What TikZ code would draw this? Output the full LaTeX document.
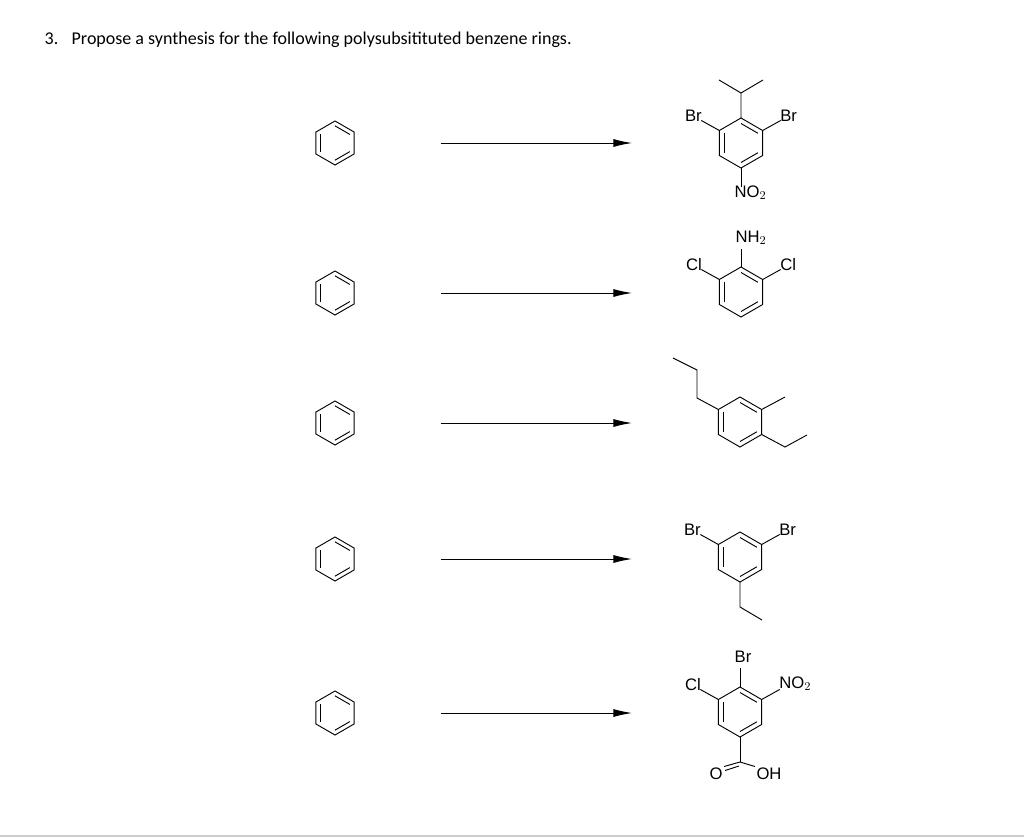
\documentclass[tikz,border=0pt]{standalone}
\usepackage{fontspec}
\setmainfont{Liberation Sans}
\newfontfamily\titlefont{Carlito}
\usetikzlibrary{calc,arrows.meta}
\newcommand\benz[4]{%
 \coordinate (#1c) at (#2,#3);
 \foreach \i/\a in {1/90,2/30,3/-30,4/-90,5/-150,6/150}{\coordinate (#1\i) at ({#2+#4*cos(\a)},{#3-#4*sin(\a)});}
 \draw[bond] (#11)--(#12)--(#13)--(#14)--(#15)--(#16)--cycle;
 \foreach \p/\q in {1/2,3/4,5/6}{\draw[bond] ($(#1c)!0.78!(#1\p)$)--($(#1c)!0.78!(#1\q)$);}
}
\newcommand\lsub[3]{\coordinate (#2) at ($(#1)+(-18,-10)$); \node[lab,anchor=south east] (#2l) at ($(#2)+(2,3)$) {#3}; \draw[bond] (#1)--(#2);}
\newcommand\rsub[3]{\coordinate (#2) at ($(#1)+(18,-10)$); \node[lab,anchor=south west] (#2l) at ($(#2)+(-2,3)$) {#3}; \draw[bond] (#1)--(#2);}
\tikzset{bond/.style={line width=0.7pt},lab/.style={font=\fontsize{12.5}{14}\selectfont,inner sep=1pt},
 rx/.style={line width=0.7pt,-{Latex[length=14pt,width=6pt]}}}
\begin{document}
\begin{tikzpicture}[x=0.75pt,y=-0.75pt]
\useasboundingbox (0,0) rectangle (1024,839);
\draw[gray!40,line width=1pt] (0,836) -- (1024,836);
\node[anchor=west,font=\titlefont\fontsize{13.5}{15}\selectfont] (title) at (40,40) {3.\hspace{10pt}Propose a synthesis for the following polysubsitituted benzene rings.};
\foreach \n/\y in {1/143,2/293,3/423,4/559,5/713}{
 \benz{s\n}{335}{\y}{22}
 \coordinate (a\n) at (441,\y); \coordinate (b\n) at (632,\y);
 \draw[rx] (a\n) -- (b\n);
}
\benz{p}{741}{143}{25}
\coordinate (p7) at (741,93); \coordinate (p8) at (719,80); \coordinate (p9) at (763,80);
\draw[bond] (p1)--(p7)--(p8); \draw[bond] (p7)--(p9);
\lsub{p6}{pa}{Br} \rsub{p2}{pb}{Br}
\node[lab,anchor=north west] (pno) at (733,184) {NO$_2$};
\draw[bond] (p4)--(741,187);
\benz{q}{741}{292}{25}
\node[lab] (qnh) at (751,238) {NH$_2$};
\draw[bond] (q1)--(741,249);
\lsub{q6}{qa}{Cl} \rsub{q2}{qb}{Cl}
\benz{r}{740}{422}{25}
\coordinate (r7) at (697,398); \coordinate (r8) at (697,370); \coordinate (r9) at (673,358);
\coordinate (r10) at (785,397); \coordinate (r11) at (785,447); \coordinate (r12) at (807,435);
\draw[bond] (r6)--(r7)--(r8)--(r9); \draw[bond] (r2)--(r10); \draw[bond] (r3)--(r11)--(r12);
\benz{t}{740}{557}{25}
\lsub{t6}{ta}{Br} \rsub{t2}{tb}{Br}
\coordinate (t7) at (740,607); \coordinate (t8) at (762,620);
\draw[bond] (t4)--(t7)--(t8);
\benz{u}{740}{712}{25}
\node[lab] (ubr) at (743,657) {Br};
\draw[bond] (u1)--(740,668);
\lsub{u6}{ua}{Cl} \rsub{u2}{ub}{NO$_2$}
\coordinate (u7) at (740,762);
\node[lab] (uo) at (716,774) {O}; \node[lab] (uoh) at (769,774) {OH};
\draw[bond] (u4)--(u7);
\draw[bond] (u7)--(uo.north east); \draw[bond] ($(u7)+(-1,4)$)--($(uo.north east)+(1,4)$);
\draw[bond] (u7)--(uoh.north west);
\end{tikzpicture}
\end{document}
